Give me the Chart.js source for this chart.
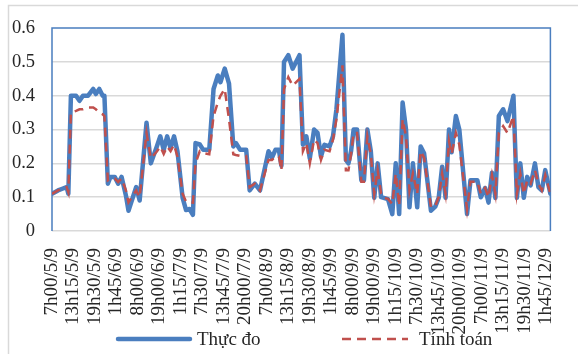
<!DOCTYPE html>
<html>
<head>
<meta charset="utf-8">
<script src="https://cdn.jsdelivr.net/npm/chart.js@4.4.1/dist/chart.umd.min.js"></script>
<style>
  html, body { margin: 0; padding: 0; background: #ffffff; }
  #wrap { width: 578px; height: 354px; }
</style>
</head>
<body>
<div id="wrap"><canvas id="chart" width="578" height="354"></canvas></div>
<script>
// Axis labels, one every 25 fifteen-minute steps
const tickLabels = [
  '7h00/5/9', '13h15/5/9', '19h30/5/9', '1h45/6/9', '8h00/6/9', '19h00/6/9',
  '1h15/7/9', '7h30/7/9', '13h45/7/9', '20h00/7/9', '7h00/8/9', '13h15/8/9',
  '19h30/8/9', '1h45/9/9', '8h00/9/9', '19h00/9/9', '1h15/10/9', '7h30/10/9',
  '13h45/10/9', '20h00/10/9', '7h00/11/9', '13h15/11/9', '19h30/11/9', '1h45/12/9'
];
const stepsPerLabel = 25;

// Time position of each sample (15-minute steps from 7h00/5/9)
const steps = [
  0, 7, 12, 17, 19, 22, 28, 32, 36, 42, 48, 51, 55, 59, 61, 65, 68, 73, 77, 81,
  86, 89, 98, 102, 110, 115, 122, 126, 130, 134, 138, 142, 146, 152, 156, 160, 164, 167, 172, 176,
  183, 188, 193, 196, 201, 206, 211, 214, 219, 226, 230, 236, 242, 252, 256, 260, 264, 267, 270, 275,
  280, 288, 292, 296, 300, 305, 309, 313, 317, 323, 327, 331, 338, 342, 345, 348, 351, 355, 360, 363,
  367, 371, 375, 379, 383, 386, 391, 396, 400, 404, 408, 412, 416, 420, 425, 429, 433, 441, 446, 450,
  454, 458, 462, 465, 470, 474, 483, 487, 495, 499, 504, 508, 512, 516, 520, 525, 530, 537, 541, 545,
  549, 553, 557, 562, 566, 570, 574, 580
];

// Measured values
const measured = [
  0.11, 0.12, 0.125, 0.13, 0.11, 0.40, 0.40, 0.385, 0.40, 0.40, 0.42, 0.405, 0.42, 0.40, 0.40, 0.14, 0.16, 0.16, 0.14, 0.16,
  0.105, 0.06, 0.13, 0.09, 0.32, 0.20, 0.25, 0.28, 0.24, 0.28, 0.245, 0.28, 0.236, 0.098, 0.062, 0.065, 0.048, 0.26, 0.256, 0.24,
  0.24, 0.42, 0.46, 0.44, 0.48, 0.436, 0.25, 0.26, 0.24, 0.24, 0.12, 0.14, 0.12, 0.236, 0.217, 0.24, 0.24, 0.193, 0.50, 0.52,
  0.48, 0.52, 0.255, 0.28, 0.215, 0.30, 0.29, 0.22, 0.255, 0.25, 0.28, 0.36, 0.58, 0.21, 0.20, 0.236, 0.30, 0.30, 0.15, 0.15,
  0.30, 0.236, 0.098, 0.20, 0.10, 0.098, 0.094, 0.05, 0.20, 0.05, 0.38, 0.30, 0.07, 0.20, 0.07, 0.25, 0.23, 0.06, 0.072, 0.098,
  0.19, 0.098, 0.30, 0.233, 0.34, 0.30, 0.05, 0.15, 0.15, 0.10, 0.127, 0.084, 0.172, 0.098, 0.34, 0.36, 0.325, 0.40, 0.098, 0.20,
  0.098, 0.16, 0.135, 0.20, 0.13, 0.12, 0.18, 0.11
];

// Computed values
const computed = [
  0.11, 0.12, 0.125, 0.13, 0.115, 0.35, 0.355, 0.36, 0.36, 0.365, 0.365, 0.36, 0.35, 0.345, 0.34, 0.15, 0.155, 0.155, 0.145, 0.155,
  0.12, 0.085, 0.12, 0.10, 0.29, 0.215, 0.235, 0.25, 0.228, 0.25, 0.236, 0.255, 0.22, 0.11, 0.087, 0.085, 0.084, 0.20, 0.236, 0.23,
  0.227, 0.34, 0.38, 0.40, 0.42, 0.33, 0.227, 0.225, 0.222, 0.222, 0.13, 0.14, 0.12, 0.21, 0.21, 0.22, 0.22, 0.18, 0.42, 0.455,
  0.43, 0.45, 0.236, 0.26, 0.20, 0.27, 0.26, 0.21, 0.24, 0.236, 0.27, 0.33, 0.49, 0.18, 0.18, 0.227, 0.29, 0.29, 0.146, 0.146,
  0.28, 0.227, 0.11, 0.18, 0.11, 0.098, 0.095, 0.08, 0.17, 0.074, 0.33, 0.28, 0.12, 0.17, 0.11, 0.236, 0.217, 0.07, 0.074, 0.10,
  0.17, 0.11, 0.265, 0.227, 0.29, 0.255, 0.065, 0.146, 0.146, 0.11, 0.127, 0.10, 0.165, 0.11, 0.29, 0.31, 0.29, 0.34, 0.11, 0.17,
  0.11, 0.15, 0.14, 0.18, 0.14, 0.12, 0.165, 0.11
];

const seriesNames = ['Thực đo', 'Tính toán'];

const BLUE = '#4a7ebf';
const RED = '#c0504d';
const GRID = '#d9d9d9';
const TEXT = '#262626';
const SERIF = "'Liberation Serif', 'Times New Roman', 'DejaVu Serif', serif";

const toPoints = (vals) => steps.map((s, i) => ({ x: s, y: vals[i] }));

// Light outer frame of the chart area
const outerFrame = {
  id: 'outerFrame',
  beforeDraw(chart) {
    const ctx = chart.ctx;
    ctx.save();
    ctx.strokeStyle = GRID;
    ctx.lineWidth = 1.5;
    ctx.beginPath();
    ctx.moveTo(8.5, 354);
    ctx.lineTo(8.5, 5.5);
    ctx.lineTo(578, 5.5);
    ctx.stroke();
    ctx.restore();
  }
};

// Blue border on the top, left and right of the plot area
const plotBorder = {
  id: 'plotBorder',
  beforeDatasetsDraw(chart) {
    const { ctx, chartArea: a } = chart;
    ctx.save();
    ctx.strokeStyle = BLUE;
    ctx.lineWidth = 1.5;
    ctx.beginPath();
    ctx.moveTo(a.left, a.bottom);
    ctx.lineTo(a.left, a.top);
    ctx.lineTo(a.right, a.top);
    ctx.lineTo(a.right, a.bottom);
    ctx.stroke();
    ctx.restore();
  }
};

// Legend row under the axis labels
const legendRow = {
  id: 'legendRow',
  afterDraw(chart) {
    const ctx = chart.ctx;
    const y = 339;
    const slots = [
      { x0: 118, x1: 190, tx: 197 },
      { x0: 342, x1: 408, tx: 419 }
    ];
    chart.data.datasets.forEach((ds, i) => {
      const s = slots[i];
      ctx.save();
      ctx.strokeStyle = ds.borderColor;
      ctx.lineWidth = ds.borderWidth;
      ctx.lineCap = ds.borderDash ? 'butt' : 'round';
      ctx.setLineDash(ds.borderDash || []);
      ctx.beginPath();
      ctx.moveTo(s.x0, y);
      ctx.lineTo(s.x1, y);
      ctx.stroke();
      ctx.setLineDash([]);
      ctx.fillStyle = TEXT;
      ctx.font = '19px ' + SERIF;
      ctx.textBaseline = 'middle';
      ctx.textAlign = 'left';
      ctx.fillText(ds.label, s.tx, y + 1);
      ctx.restore();
    });
  }
};

new Chart(document.getElementById('chart'), {
  type: 'line',
  data: {
    datasets: [
      {
        label: seriesNames[0],
        data: toPoints(measured),
        borderColor: BLUE,
        borderWidth: 4.5,
        pointRadius: 0,
        tension: 0,
        borderJoinStyle: 'round',
        borderCapStyle: 'round',
        order: 1
      },
      {
        label: seriesNames[1],
        data: toPoints(computed),
        borderColor: RED,
        borderWidth: 2.5,
        borderDash: [9, 6],
        pointRadius: 0,
        tension: 0,
        order: 0
      }
    ]
  },
  options: {
    responsive: false,
    animation: false,
    devicePixelRatio: 1,
    layout: { padding: { top: 21, right: 11, left: 0, bottom: 0 } },
    plugins: {
      legend: { display: false },
      tooltip: { enabled: false }
    },
    scales: {
      x: {
        type: 'linear',
        min: 0,
        max: steps[steps.length - 1],
        grid: { display: false },
        border: { display: false },
        afterBuildTicks: (scale) => {
          scale.ticks = tickLabels.map((_, k) => ({ value: k * stepsPerLabel }));
        },
        ticks: {
          autoSkip: false,
          maxRotation: 90,
          minRotation: 90,
          padding: 9,
          color: TEXT,
          font: { family: SERIF, size: 19 },
          callback: (v) => tickLabels[Math.round(v / stepsPerLabel)]
        },
        afterFit: (scale) => { scale.height = 123; }
      },
      y: {
        min: 0,
        max: 0.6,
        grid: {
          color: (c) => (c.tick && Math.abs(c.tick.value - 0.6) < 1e-9) ? 'rgba(0,0,0,0)' : GRID,
          lineWidth: 1.5,
          drawTicks: false
        },
        border: { display: false },
        ticks: {
          stepSize: 0.1,
          padding: 17,
          color: TEXT,
          font: { family: SERIF, size: 18.5 },
          callback: (v) => (Math.abs(v) < 1e-9 ? '0' : v.toFixed(1))
        },
        afterFit: (scale) => { scale.width = 52; }
      }
    }
  },
  plugins: [outerFrame, plotBorder, legendRow]
});
</script>
</body>
</html>
